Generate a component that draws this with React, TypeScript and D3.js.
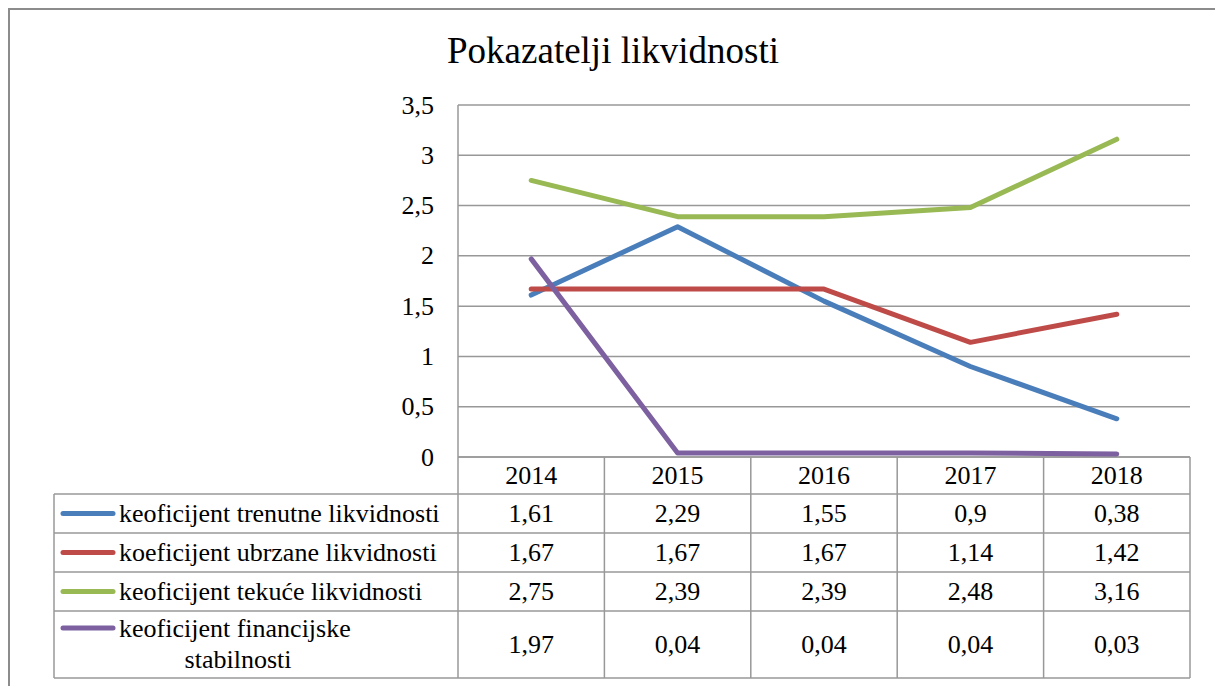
import React from "react";
import * as d3 from "d3";

// data -------------------------------------------------------------
const years = ["2014", "2015", "2016", "2017", "2018"];
const trenutne = [1.61, 2.29, 1.55, 0.9, 0.38];
const ubrzane = [1.67, 1.67, 1.67, 1.14, 1.42];
const tekuce = [2.75, 2.39, 2.39, 2.48, 3.16];
const financijske = [1.97, 0.04, 0.04, 0.04, 0.03];
const yTicks = [0, 0.5, 1, 1.5, 2, 2.5, 3, 3.5];

const series = [
  { name: ["keoficijent trenutne likvidnosti"], values: trenutne, color: "#4a7ebb" },
  { name: ["koeficijent ubrzane likvidnosti"], values: ubrzane, color: "#be4b48" },
  { name: ["keoficijent tekuće likvidnosti"], values: tekuce, color: "#98b954" },
  { name: ["keoficijent financijske", "stabilnosti"], values: financijske, color: "#7d60a0" },
];

const fmt = (v: number) => String(v).replace(".", ",");

const App = () => {
  const [width, height] = [1215, 686];
  const font = "Liberation Serif";
  const fs = 26;
  const plot = { left: 458, right: 1190, top: 105, bottom: 457 };
  const tableLeft = 54;
  // row boundaries of the data table (header row first)
  const rowEdges = [457, 494, 533, 572, 611, 678];

  const x = d3.scaleBand().domain(years).range([plot.left, plot.right]);
  const y = d3.scaleLinear().domain([0, 3.5]).range([plot.bottom, plot.top]);
  const cx = (yr: string) => (x(yr) as number) + x.bandwidth() / 2;

  const line = d3
    .line<number>()
    .x((d, i) => cx(years[i]))
    .y((d) => y(d));

  const grid = "#989898";

  return (
    <svg
      width={width}
      height={height}
      style={{ position: "absolute", left: 0, top: 0, background: "#fff", fontFamily: font }}
    >
      {/* outer frame */}
      <rect x={9} y={9} width={1230} height={700} fill="none" stroke="#8c8c8c" strokeWidth={2} />

      <text x={613} y={63} textAnchor="middle" fontSize={37}>
        Pokazatelji likvidnosti
      </text>

      {/* gridlines + y labels */}
      {yTicks.map((t) => (
        <g key={t}>
          <line x1={plot.left} x2={plot.right} y1={y(t)} y2={y(t)} stroke={grid} strokeWidth={1.5} />
          <text x={434} y={y(t)} textAnchor="end" dominantBaseline="central" fontSize={fs}>
            {fmt(t)}
          </text>
        </g>
      ))}

      {/* table grid */}
      <line x1={plot.left} x2={plot.left} y1={plot.top} y2={rowEdges[5]} stroke={grid} strokeWidth={1.5} />
      {years.map((yr) => (
        <line
          key={yr}
          x1={(x(yr) as number) + x.bandwidth()}
          x2={(x(yr) as number) + x.bandwidth()}
          y1={rowEdges[0]}
          y2={rowEdges[5]}
          stroke={grid}
          strokeWidth={1.5}
        />
      ))}
      {rowEdges.map((ry, i) => (
        <line
          key={i}
          x1={i === 0 ? plot.left : tableLeft}
          x2={plot.right}
          y1={ry}
          y2={ry}
          stroke={grid}
          strokeWidth={1.5}
        />
      ))}
      <line x1={tableLeft} x2={tableLeft} y1={rowEdges[1]} y2={rowEdges[5]} stroke={grid} strokeWidth={1.5} />

      {/* header years */}
      {years.map((yr) => (
        <text key={yr} x={cx(yr)} y={(rowEdges[0] + rowEdges[1]) / 2} textAnchor="middle" dominantBaseline="central" fontSize={fs}>
          {yr}
        </text>
      ))}

      {/* rows */}
      {series.map((s, r) => {
        const top = rowEdges[r + 1];
        const bot = rowEdges[r + 2];
        const mid = (top + bot) / 2;
        const keyY = s.name.length > 1 ? top + 17 : mid;
        return (
          <g key={r}>
            <line x1={63} x2={113} y1={keyY} y2={keyY} stroke={s.color} strokeWidth={5} strokeLinecap="round" />
            {s.name.map((n, k) => (
              <text
                key={k}
                x={k === 0 ? 119 : 238}
                y={keyY + k * 31}
                textAnchor={k === 0 ? "start" : "middle"}
                dominantBaseline="central"
                fontSize={fs}
              >
                {n}
              </text>
            ))}
            {s.values.map((v, i) => (
              <text key={i} x={cx(years[i])} y={mid} textAnchor="middle" dominantBaseline="central" fontSize={fs}>
                {fmt(v)}
              </text>
            ))}
          </g>
        );
      })}

      {/* series lines */}
      {series.map((s, r) => (
        <path
          key={r}
          d={line(s.values) as string}
          fill="none"
          stroke={s.color}
          strokeWidth={5}
          strokeLinecap="round"
          strokeLinejoin="round"
        />
      ))}
    </svg>
  );
};

export default App;
